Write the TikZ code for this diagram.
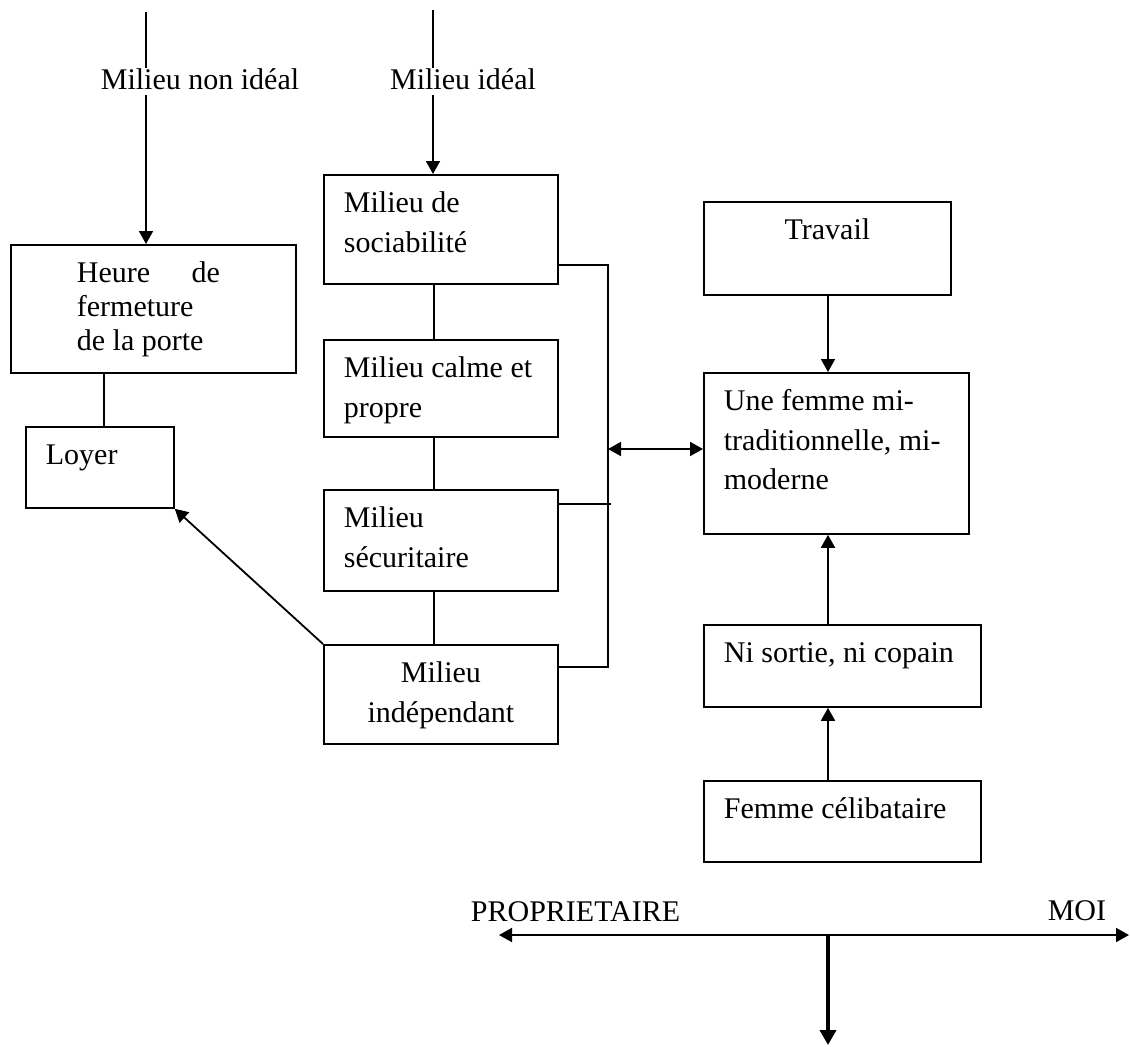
\documentclass[tikz,border=0pt]{standalone}
\usepackage{fontspec}
\setmainfont{Liberation Serif}
\usetikzlibrary{arrows.meta}

\newcommand{\boxtxt}[4][\raggedright]{\parbox[c][#3][t]{#2}{#1\rule{0pt}{14pt}#4}}

\begin{document}
\begin{tikzpicture}[x=0.5pt, y=-0.5pt, line width=0.9pt, >={Triangle[length=6.5pt,width=7pt]},
  every node/.append style={font=\fontsize{15}{19.75}\selectfont},
  box/.style={draw, anchor=north west, inner xsep=10pt, inner ysep=5pt},
  lbl/.style={fill=white, inner sep=0pt, text depth=3pt, anchor=base}]
  \useasboundingbox (0,0) rectangle (1130,1046);

  \node[box, inner xsep=33pt] (heure) at (10,244) {\boxtxt[\fontsize{15}{17}\selectfont\raggedright]{76.5pt}{54pt}{\makebox[71.5pt][s]{Heure de}\\fermeture\\de la porte}};
  \node[box] (loyer) at (25,426) {\boxtxt{54pt}{30.5pt}{Loyer}};
  \node[box] (soc) at (323,174) {\boxtxt{97pt}{44.5pt}{Milieu de\\sociabilité}};
  \node[box] (calme) at (323,339) {\boxtxt{97pt}{38.5pt}{Milieu calme et\\propre}};
  \node[box] (secu) at (323,489) {\boxtxt{97pt}{40.5pt}{Milieu\\sécuritaire}};
  \node[box] (indep) at (323,644) {\boxtxt[\centering]{97pt}{39.5pt}{Milieu\\indépendant}};
  \node[box] (travail) at (703,201) {\boxtxt[\centering]{103.5pt}{36.5pt}{Travail}};
  \node[box] (femme) at (703,372) {\boxtxt{112.5pt}{70.5pt}{Une femme mi-\\traditionnelle, mi-\\moderne}};
  \node[box] (ni) at (703,624) {\boxtxt{118.5pt}{31pt}{Ni sortie, ni copain}};
  \node[box] (celib) at (703,780) {\boxtxt{118.5pt}{30.5pt}{Femme célibataire}};

  \coordinate (in1) at (146,12);
  \coordinate (in2) at (433,10);
  \coordinate (hl) at (104,0);
  \coordinate (mid) at (434,0);
  \coordinate (rc) at (828,0);
  \coordinate (b0) at (608,449);
  \coordinate (b1) at (608,265);
  \coordinate (b2) at (611,504);
  \coordinate (b3) at (608,667);
  \coordinate (axl) at (499,935);
  \coordinate (axr) at (1129,935);
  \coordinate (ax) at (828,935);
  \coordinate (dn) at (828,1045);

  \draw[->] (in1) -- (in1 |- heure.north);
  \draw[->] (in2) -- (in2 |- soc.north);
  \node[lbl] (nonideal) at (200,89) {Milieu non idéal};
  \node[lbl] (ideal) at (463,89) {Milieu idéal};

  \draw (heure.south -| hl) -- (loyer.north -| hl);
  \foreach \a/\b in {soc/calme, calme/secu, secu/indep}
    \draw (\a.south -| mid) -- (\b.north -| mid);
  \draw[->] (indep.north west) -- (loyer.south east);

  \draw (soc.east |- b1) -- (b1) -- (b3) -- (indep.east |- b3);
  \draw (secu.east |- b2) -- (b2);
  \draw[<->] (b0) -- (femme.west |- b0);

  \draw[->] (travail.south -| rc) -- (femme.north -| rc);
  \draw[->] (ni.north -| rc) -- (femme.south -| rc);
  \draw[->] (celib.north -| rc) -- (ni.south -| rc);

  \draw[<->] (axl) -- (axr);
  \draw[-{Triangle[length=7.5pt,width=8pt]}, line width=1.8pt] (ax) -- (dn);
  \node[lbl, anchor=base west] (prop) at (470,921) {PROPRIETAIRE};
  \node[lbl, anchor=base east] (moi) at (1107,920) {MOI};
\end{tikzpicture}
\end{document}
